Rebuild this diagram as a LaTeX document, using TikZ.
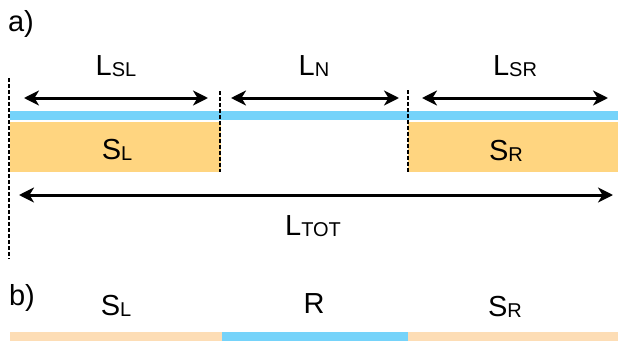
\documentclass[tikz,border=0pt]{standalone}
\usepackage{fontspec}
\setmainfont{Liberation Sans}
\usetikzlibrary{arrows.meta}
\definecolor{barblue}{RGB}{117,211,250}
\definecolor{barorange}{RGB}{255,213,128}
\definecolor{barlight}{RGB}{253,221,181}
\newcommand{\lab}[2]{#1{\fontsize{20}{20}\selectfont\raisebox{-1.5pt}{#2}}}
\tikzset{
  lbl/.style={font=\fontsize{29}{29}\selectfont, inner sep=0pt, anchor=center},
  dim/.style={line width=3pt, {Stealth[length=15pt,width=15pt,inset=4.5pt]}-{Stealth[length=15pt,width=15pt,inset=4.5pt]}},
  guide/.style={line width=1.8pt, dash pattern=on 3.5pt off 2.5pt},
}
\begin{document}
\begin{tikzpicture}[x=1pt,y=-1pt]
\useasboundingbox (0,0) rectangle (618,345);
% bars (a)
\fill[barblue] (10,111) rectangle (618,120);
\fill[barorange] (10,122) rectangle (221,172);
\fill[barorange] (408,122) rectangle (618,172);
% bars (b)
\fill[barlight] (10,332) rectangle (222,341);
\fill[barblue] (222,332) rectangle (408,341);
\fill[barlight] (408,332) rectangle (618,341);
% guide lines
\coordinate (g1t) at (9,78);  \coordinate (g1b) at (9,259);
\coordinate (g2t) at (220,91); \coordinate (g2b) at (220,172);
\coordinate (g3t) at (408,90); \coordinate (g3b) at (408,172);
\draw[guide] (g1t) -- (g1b);
\draw[guide] (g2t) -- (g2b);
\draw[guide] (g3t) -- (g3b);
% dimension arrows
\coordinate (a1) at (24,98);  \coordinate (b1) at (208,98);
\coordinate (a2) at (231,98); \coordinate (b2) at (399,98);
\coordinate (a3) at (422,98); \coordinate (b3) at (608,98);
\coordinate (a4) at (19,195); \coordinate (b4) at (613,195);
\draw[dim] (a1) -- (b1);
\draw[dim] (a2) -- (b2);
\draw[dim] (a3) -- (b3);
\draw[dim] (a4) -- (b4);
% labels
\node[lbl] (pa) at (21,24) {a)};
\node[lbl] (pb) at (22,298) {b)};
\node[lbl] (LSL) at (116,66) {\lab{L}{SL}};
\node[lbl] (LN) at (314,66) {\lab{L}{N}};
\node[lbl] (LSR) at (515,66) {\lab{L}{SR}};
\node[lbl] (SL) at (117,150) {\lab{S}{L}};
\node[lbl] (SR) at (506,151) {\lab{S}{R}};
\node[lbl] (LTOT) at (313,226) {\lab{L}{TOT}};
\node[lbl] (SLb) at (116,306) {\lab{S}{L}};
\node[lbl] (Rb) at (314,304) {R};
\node[lbl] (SRb) at (505,307) {\lab{S}{R}};
\end{tikzpicture}
\end{document}
